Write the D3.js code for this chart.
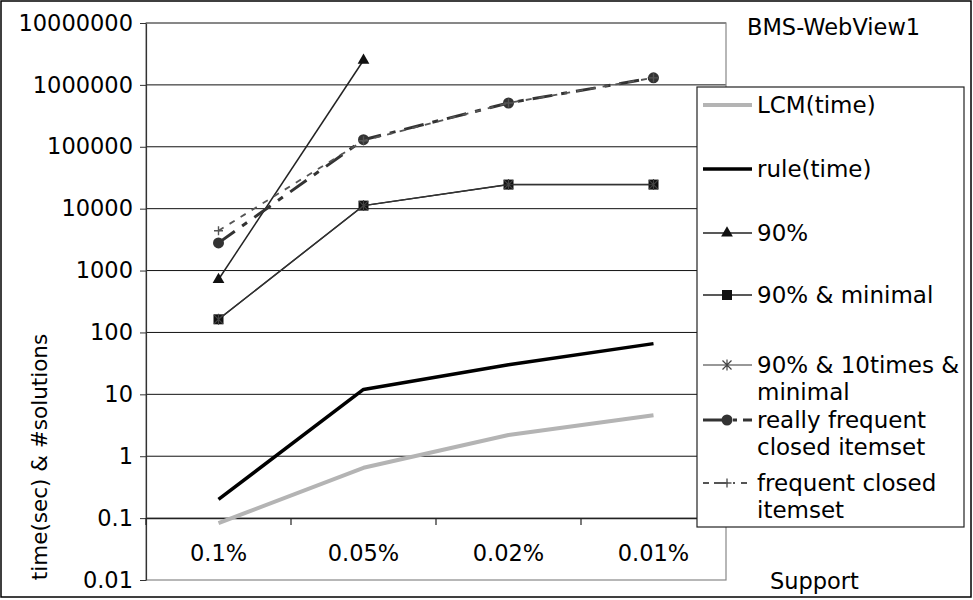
<!DOCTYPE html>
<html>
<head>
<meta charset="utf-8">
<script src="https://cdn.jsdelivr.net/npm/d3@7"></script>
<style>
  html, body { margin: 0; padding: 0; background: #fff; }
  svg { display: block; }
  text { font-family: "DejaVu Sans", sans-serif; fill: #000; }
</style>
</head>
<body>
<svg id="chart" width="973" height="600"></svg>
<script>
// ---------- data ----------
const categories = ["0.1%", "0.05%", "0.02%", "0.01%"];
const yTicks = [0.01, 0.1, 1, 10, 100, 1000, 10000, 100000, 1000000, 10000000];

const lcmTime       = [0.083, 0.65, 2.2, 4.6];
const ruleTime      = [0.2, 12, 30, 66];
const p90           = [716, 2500000, null, null];
const p90Minimal    = [163, 11200, 24500, 24500];
const p90TenMinimal = [163, 11200, 24500, 24500];
const reallyFreq    = [2800, 130000, 510000, 1300000];
const freqClosed    = [4400, 125000, 510000, 1300000];

const seriesNames = [
  ["LCM(time)"],
  ["rule(time)"],
  ["90%"],
  ["90% & minimal"],
  ["90% & 10times &", "minimal"],
  ["really frequent", "closed itemset"],
  ["frequent closed", "itemset"]
];
const chartTitle = "BMS-WebView1";
const yTitle = "time(sec) & #solutions";
const xTitle = "Support";

// ---------- styles ----------
const styles = [
  {stroke: "#b4b4b4", width: 4,   dash: null,          marker: null},
  {stroke: "#000",    width: 3.5, dash: null,          marker: null},
  {stroke: "#222",    width: 1.5, dash: null,          marker: "triangle"},
  {stroke: "#222",    width: 1.5, dash: null,          marker: "square"},
  {stroke: "#333",    width: 1.2, dash: null,          marker: "asterisk"},
  {stroke: "#333",    width: 3,   dash: "20,9,6,9",    marker: "circle"},
  {stroke: "#555",    width: 1.8, dash: "6,7",         marker: "plus"}
];
const seriesData = [lcmTime, ruleTime, p90, p90Minimal, p90TenMinimal, reallyFreq, freqClosed];

const svg = d3.select("#chart");

// outer border
svg.append("rect").attr("x", 1).attr("y", 1).attr("width", 970).attr("height", 596)
  .attr("fill", "none").attr("stroke", "#000").attr("stroke-width", 1.5);

const plot = {left: 146, right: 726, top: 23, bottom: 580};

const x = d3.scaleBand().domain(categories).range([plot.left, plot.right]);
const y = d3.scaleLog().domain([0.01, 10000000]).range([plot.bottom, plot.top]);

// gridlines
svg.append("g").selectAll("line").data(yTicks.filter(v => v > 0.01)).join("line")
  .attr("x1", plot.left).attr("x2", plot.right)
  .attr("y1", d => y(d)).attr("y2", d => y(d))
  .attr("stroke", "#111").attr("stroke-width", 1);

// plot area border (gray)
svg.append("rect").attr("x", plot.left).attr("y", plot.top)
  .attr("width", plot.right - plot.left).attr("height", plot.bottom - plot.top)
  .attr("fill", "none").attr("stroke", "#888").attr("stroke-width", 1.2);

// y axis
const yAxis = d3.axisLeft(y).tickValues(yTicks).tickSize(6).tickSizeOuter(0).tickPadding(7)
  .tickFormat(d => String(d));
const gy = svg.append("g").attr("transform", `translate(${plot.left},0)`).call(yAxis);
gy.select(".domain").attr("stroke", "#333").attr("stroke-width", 1.2);
gy.selectAll(".tick line").attr("stroke", "#333");
gy.selectAll(".tick text").style("font-family", "DejaVu Sans").style("font-size", "22.5px").attr("fill", "#000");

// x axis crossing at 0.1
const xAxisY = y(0.1);
const xAxis = d3.axisBottom(x).tickSize(0).tickPadding(27).tickSizeOuter(0);
const gx = svg.append("g").attr("transform", `translate(0,${xAxisY})`).call(xAxis);
gx.select(".domain").attr("stroke", "#222").attr("stroke-width", 1.2);
gx.selectAll(".tick text").style("font-family", "DejaVu Sans").style("font-size", "22.5px").attr("fill", "#000");
// boundary ticks
const bounds = categories.map(c => x(c)).concat([x.range()[1]]);
svg.append("g").selectAll("line").data(bounds).join("line")
  .attr("x1", d => d).attr("x2", d => d)
  .attr("y1", xAxisY).attr("y2", xAxisY + 7)
  .attr("stroke", "#222").attr("stroke-width", 1.2);

// marker drawing
function drawMarker(g, type, cx, cy, color) {
  if (!type) return;
  if (type === "triangle") {
    g.append("path").attr("d", d3.symbol(d3.symbolTriangle, 60)())
      .attr("transform", `translate(${cx},${cy})`).attr("fill", "#111");
  } else if (type === "square") {
    g.append("rect").attr("x", cx - 5).attr("y", cy - 5).attr("width", 10).attr("height", 10)
      .attr("fill", "#111");
  } else if (type === "circle") {
    g.append("circle").attr("cx", cx).attr("cy", cy).attr("r", 5.5).attr("fill", "#333");
  } else if (type === "asterisk") {
    const r = 4.5;
    const p = `M${cx - r},${cy - r}L${cx + r},${cy + r}M${cx - r},${cy + r}L${cx + r},${cy - r}M${cx},${cy - r - 1}L${cx},${cy + r + 1}`;
    g.append("path").attr("d", p).attr("stroke", "#444").attr("stroke-width", 1.2).attr("fill", "none");
  } else if (type === "plus") {
    const r = 4.5;
    const p = `M${cx - r},${cy}L${cx + r},${cy}M${cx},${cy - r}L${cx},${cy + r}`;
    g.append("path").attr("d", p).attr("stroke", "#555").attr("stroke-width", 1.4).attr("fill", "none");
  }
}

// series
const line = d3.line()
  .defined(d => d.v != null)
  .x(d => x(d.c) + x.bandwidth() / 2)
  .y(d => y(d.v));

seriesData.forEach((vals, i) => {
  const st = styles[i];
  const pts = vals.map((v, j) => ({c: categories[j], v}));
  const g = svg.append("g");
  g.append("path").datum(pts).attr("d", line)
    .attr("fill", "none").attr("stroke", st.stroke).attr("stroke-width", st.width)
    .attr("stroke-dasharray", st.dash).attr("stroke-linejoin", "round");
  pts.filter(p => p.v != null).forEach(p => {
    drawMarker(g, st.marker, x(p.c) + x.bandwidth() / 2, y(p.v), st.stroke);
  });
});

// legend
const lg = svg.append("g");
lg.append("rect").attr("x", 697).attr("y", 87).attr("width", 267).attr("height", 440)
  .attr("fill", "#fff").attr("stroke", "#222").attr("stroke-width", 1.2);
const legendY = [105, 169, 233, 295, 365, 420, 483];
seriesNames.forEach((lines, i) => {
  const st = styles[i];
  const ly = legendY[i];
  lg.append("line").attr("x1", 703).attr("x2", 752).attr("y1", ly).attr("y2", ly)
    .attr("stroke", st.stroke).attr("stroke-width", st.width)
    .attr("stroke-dasharray", st.dash ? (i === 5 ? "24,6,4,6" : "6,5,14,5,2,6") : null);
  drawMarker(lg, st.marker, 727, ly, st.stroke);
  const t = lg.append("text").attr("x", 757).attr("y", ly + 8)
    .style("font-size", "23px");
  lines.forEach((s, k) => {
    t.append("tspan").attr("x", 757).attr("dy", k === 0 ? 0 : 27).text(s);
  });
});

// titles
svg.append("text").attr("x", 747).attr("y", 35).style("font-size", "22.5px").text(chartTitle);
svg.append("text").attr("x", 770).attr("y", 589).style("font-size", "22.5px").text(xTitle);
svg.append("text").attr("transform", "translate(47,457) rotate(-90)")
  .attr("text-anchor", "middle").style("font-size", "21.5px").text(yTitle);
</script>
</body>
</html>
